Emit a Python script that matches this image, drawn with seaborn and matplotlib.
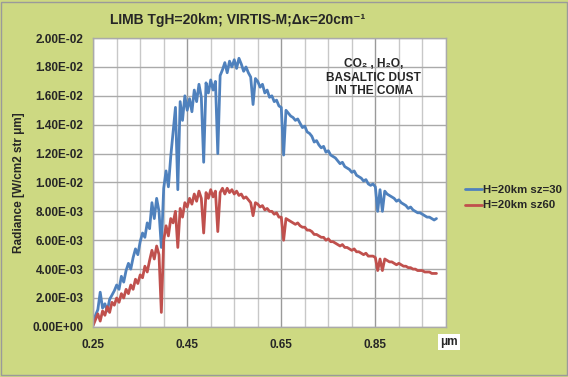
import numpy as np
import pandas as pd
import matplotlib
matplotlib.use("Agg")
import matplotlib.pyplot as plt
from matplotlib.patches import Rectangle
from matplotlib.ticker import MultipleLocator, FuncFormatter
import seaborn as sns

# ------------------------------
# data, radiance in 1e-3 W/cm2 str um
# ------------------------------
wavelength = np.round(np.arange(0.25, 0.9801, 0.005), 3)

sz30 = [0.3, 0.8, 1.2, 2.4, 1.3, 1.6, 1.1, 1.9, 2.2, 2.5,
        2.9, 2.6, 3.5, 3.1, 3.9, 4.4, 4.0, 4.8, 5.4, 5.0,
        5.9, 6.5, 6.2, 7.2, 6.8, 8.6, 7.5, 8.9, 8.0, 5.5,
        9.6, 10.8, 9.7, 11.8, 13.5, 15.2, 9.5, 15.6, 14.3, 16.0,
        15.0, 15.8, 14.9, 16.4, 15.6, 16.8, 15.9, 11.4, 16.9, 16.2,
        17.1, 16.4, 17.0, 12.0, 17.4, 17.8, 18.3, 17.6, 18.4, 18.0,
        18.5, 17.9, 18.6, 18.2, 17.7, 18.0, 17.6, 17.3, 15.4, 17.2,
        17.0, 16.6, 16.8, 16.2, 16.4, 15.9, 16.0, 15.6, 15.7, 15.3,
        15.2, 11.9, 15.0, 14.8, 14.6, 14.5, 14.3, 14.4, 14.1, 13.8,
        13.9, 13.5, 13.4, 13.2, 12.8, 12.9, 12.6, 12.4, 12.5, 12.1,
        12.2, 11.9, 11.8, 11.7, 11.5, 11.3, 11.4, 11.1, 11.0, 10.9,
        10.7, 10.8, 10.5, 10.4, 10.3, 10.1, 10.2, 9.9, 9.8, 9.9,
        9.7, 8.0, 9.5, 8.0, 9.4, 9.2, 9.1, 9.0, 8.9, 8.7,
        8.8, 8.6, 8.5, 8.4, 8.2, 8.3, 8.1, 8.0, 7.9, 7.9,
        7.8, 7.7, 7.6, 7.6, 7.5, 7.4, 7.5]

sz60 = [0.1, 0.5, 0.9, 0.4, 1.1, 0.8, 1.4, 1.0, 1.7, 1.5,
        2.0, 1.7, 2.3, 2.0, 2.6, 2.3, 2.9, 2.6, 3.3, 3.0,
        3.6, 3.4, 4.2, 3.8, 4.6, 5.3, 4.7, 5.6, 5.0, 1.0,
        6.0, 7.0, 6.3, 7.5, 7.2, 8.0, 5.5, 8.2, 7.6, 8.6,
        8.3, 8.9, 8.5, 9.2, 8.7, 9.4, 8.9, 6.5, 9.3, 8.9,
        9.5, 9.0, 9.4, 6.6, 9.3, 9.6, 9.2, 9.6, 9.3, 9.5,
        9.2, 9.4, 9.1, 9.2, 8.9, 9.0, 8.8, 8.6, 7.7, 8.6,
        8.5, 8.3, 8.4, 8.1, 8.2, 8.0, 8.0, 7.8, 7.9, 7.6,
        7.6, 6.0, 7.5, 7.4, 7.3, 7.2, 7.1, 7.2, 7.0, 6.9,
        6.9, 6.7, 6.7, 6.6, 6.4, 6.4, 6.3, 6.2, 6.2, 6.0,
        6.1, 5.9, 5.9, 5.8, 5.7, 5.6, 5.7, 5.5, 5.5, 5.4,
        5.3, 5.4, 5.2, 5.2, 5.1, 5.0, 5.1, 4.9, 4.9, 4.9,
        4.8, 3.9, 4.7, 3.9, 4.7, 4.6, 4.5, 4.5, 4.4, 4.3,
        4.4, 4.3, 4.2, 4.2, 4.1, 4.1, 4.0, 4.0, 3.9, 3.9,
        3.9, 3.8, 3.8, 3.8, 3.7, 3.7, 3.7]

series_names = ["H=20km sz=30", "H=20km sz60"]
x_ticks = [0.25, 0.45, 0.65, 0.85]

df = pd.DataFrame({
    "wl": np.concatenate([wavelength, wavelength]),
    "rad": np.concatenate([sz30, sz60]) * 1e-3,
    "series": [series_names[0]] * len(sz30) + [series_names[1]] * len(sz60),
})

# ------------------------------
# figure
# ------------------------------
sns.set_style("white")
plt.rcParams["font.family"] = ["Liberation Sans", "DejaVu Sans"]
plt.rcParams["font.weight"] = "bold"

bg = "#cdd982"
colors = ["#4f81bd", "#c0504d"]
fig = plt.figure(figsize=(5.68, 3.77), dpi=100, facecolor=bg)
ax = fig.add_axes([0.164, 0.133, 0.621, 0.766])
ax.set_facecolor("white")

sns.lineplot(data=df, x="wl", y="rad", hue="series", palette=colors,
             linewidth=2.0, ax=ax, legend=False, estimator=None, sort=False)

ax.set_xlim(0.25, 1.0)
ax.set_ylim(0, 0.02)
ax.set_xticks(x_ticks)
ax.xaxis.set_minor_locator(MultipleLocator(0.05))
ax.yaxis.set_major_locator(MultipleLocator(0.002))
ax.yaxis.set_major_formatter(FuncFormatter(lambda v, p: f"{v:.2E}"))
ax.xaxis.set_major_formatter(FuncFormatter(lambda v, p: f"{v:.2f}"))

ax.grid(which="minor", axis="x", color="#c8c8c8", linewidth=1.0)
ax.grid(which="major", axis="x", color="#9a9a9a", linewidth=1.0)
ax.grid(which="major", axis="y", color="#aaaaaa", linewidth=1.0)
ax.set_axisbelow(True)
ax.tick_params(which="both", length=0, labelsize=8.5)
ax.tick_params(axis="x", pad=9)
ax.tick_params(axis="y", pad=7)
for lab in ax.get_xticklabels() + ax.get_yticklabels():
    lab.set_fontweight("bold")
for s in ax.spines.values():
    s.set_color("#aaaaaa")
    s.set_linewidth(1.0)

ax.set_xlabel("")
ax.set_ylabel("Radiance [W/cm2 str \u03bcm]", fontsize=8.5, fontweight="bold", labelpad=5)

fig.text(0.419, 0.947, "LIMB TgH=20km; VIRTIS-M;\u0394\u03ba=20cm\u207b\u00b9",
         ha="center", va="center", fontsize=10, fontweight="bold")

ax.text(0.796, 0.93, "CO\u2082 , H\u2082O,\nBASALTIC DUST\nIN THE COMA", transform=ax.transAxes,
        ha="center", va="top", fontsize=8.6, fontweight="bold", linespacing=1.15)

fig.text(0.790, 0.093, "\u03bcm", ha="center", va="center", fontsize=8.5, fontweight="bold",
         bbox=dict(facecolor="white", edgecolor="none", pad=1.5))

handles = [plt.Line2D([], [], color=c, linewidth=2.0) for c in colors]
fig.legend(handles, series_names, loc="center left", bbox_to_anchor=(0.80, 0.475),
           frameon=False, handlelength=1.5, handletextpad=0.1,
           labelspacing=0.45, prop={"weight": "bold", "size": 8.2})

fig.add_artist(Rectangle((0.002, 0.004), 0.996, 0.992, transform=fig.transFigure,
                         fill=False, edgecolor="#9a9a9a", linewidth=1.0))

fig.savefig("out.png", dpi=100, facecolor=bg)
